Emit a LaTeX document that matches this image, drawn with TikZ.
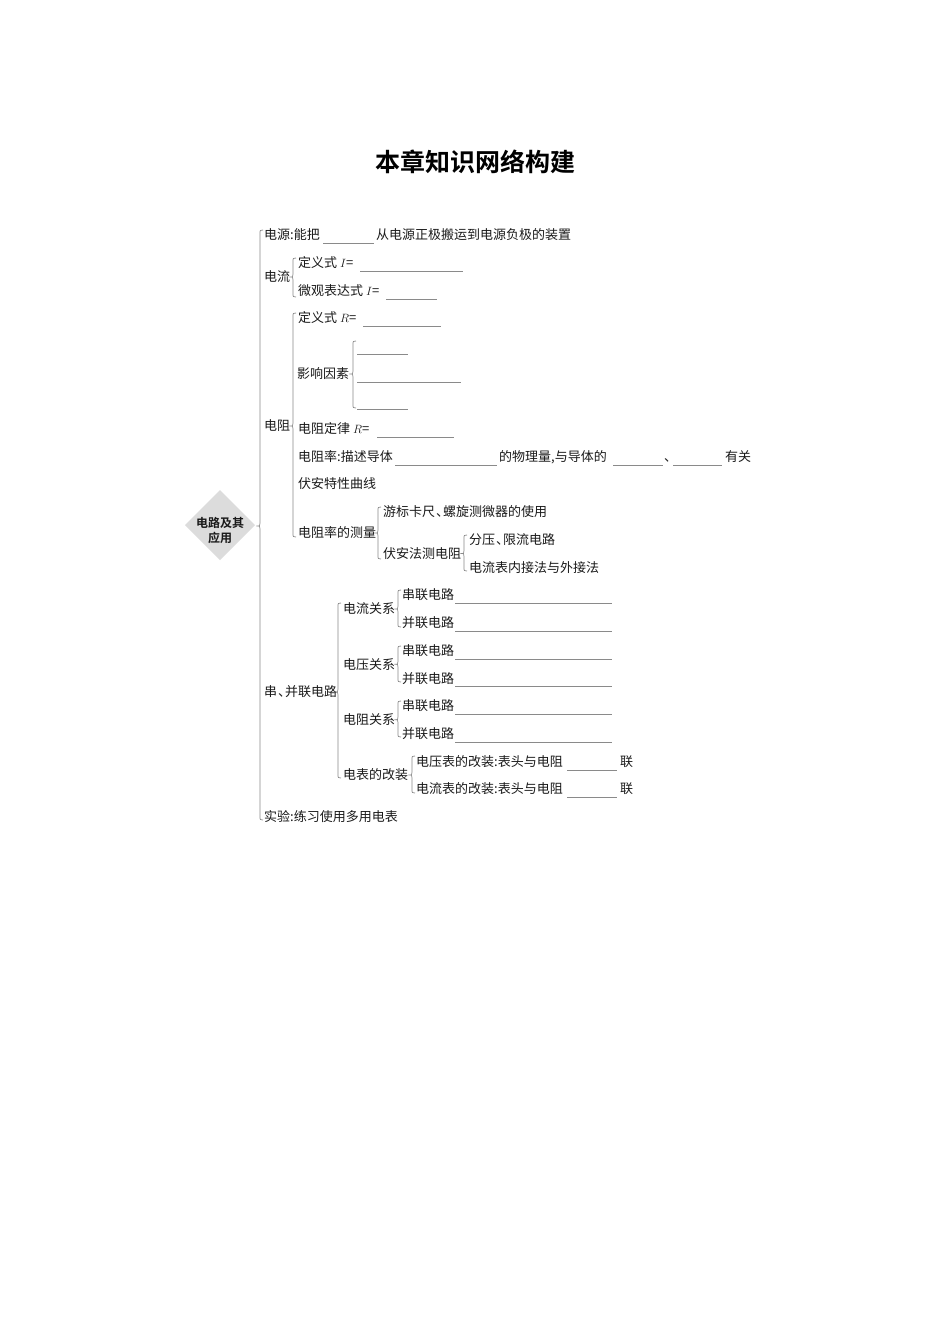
\documentclass[tikz,border=0pt]{standalone}
\usepackage{fontspec}
\newfontfamily\cjk{Noto Sans CJK SC}
\newfontfamily\cjkb{Noto Sans CJK SC Bold}
\definecolor{txtc}{HTML}{1A1A1A}
\definecolor{lnc}{HTML}{8A8A8A}
\definecolor{dmc}{HTML}{DCDCDC}
\newcommand\mybrace[4]{\draw[ln] (#1+3,#2) .. controls (#1,#2) .. (#1,#2+4) -- (#1,#3-3) .. controls (#1,#3) .. (#1-3.5,#3) .. controls (#1,#3) .. (#1,#3+3) -- (#1,#4-4) .. controls (#1,#4) .. (#1+3,#4);}
\newcommand\blank[3]{\draw[bl] (#1,#3) -- (#2,#3);}
\newcommand\dun{\kern1pt、\kern-6pt}
\begin{document}
\begin{tikzpicture}[x=1pt,y=-1pt,
 tx/.style={anchor=west,inner sep=0pt,text height=11.4pt,text depth=1.6pt,font=\cjk\fontsize{13}{15}\selectfont,text=txtc},
 ln/.style={draw=lnc,line width=0.7pt},
 bl/.style={draw=lnc,line width=0.6pt}]
\fill[white] (0,0) rectangle (950,1344);
\useasboundingbox (0,0) rectangle (950,1344);
% title
\node[font=\cjkb\fontsize{25}{30}\selectfont,text=black,inner sep=0pt] (title) at (475,162) {本章知识网络构建};
% central diamond
\fill[dmc] (185,525) -- (220,490) -- (255,525) -- (220,560) -- cycle;
\node[font=\cjkb\fontsize{12}{15}\selectfont,text=txtc,align=center,inner sep=0pt] (root) at (220,530) {电路及其\\应用};
\mybrace{260}{230}{526}{820}
% 电源
\node[tx] (dy) at (264,235) {电源:能把};
\blank{323}{374}{243.5}
\node[tx] (dy2) at (376,235) {从电源正极搬运到电源负极的装置};
% 电流
\node[tx] (dl) at (264,276.5) {电流};
\mybrace{293}{258}{277}{297}
\node[tx] (dl1) at (298,263) {定义式 $I$=};
\blank{360}{463}{271.5}
\node[tx] (dl2) at (298,291) {微观表达式 $I$=};
\blank{386}{437}{299.5}
% 电阻
\node[tx] (dz) at (264,426) {电阻};
\mybrace{293}{313}{426}{537}
\node[tx] (dz1) at (298,318) {定义式 $R$=};
\blank{363}{441}{326.5}
\node[tx] (yx) at (297,374) {影响因素};
\mybrace{353}{341}{374}{408}
\blank{357}{408}{354}
\blank{357}{461}{382}
\blank{357}{408}{409}
\node[tx] (dz2) at (298,429) {电阻定律 $R$=};
\blank{377}{454}{437.5}
\node[tx] (dz3) at (298,456.6) {电阻率:描述导体};
\blank{395}{497}{465}
\node[tx] (dz3b) at (499,456.6) {的物理量,与导体的};
\blank{613}{663}{465}
\node[tx] (dz3c) at (664,456.6) {、};
\blank{673}{722}{465}
\node[tx] (dz3d) at (725,456.6) {有关};
\node[tx] (dz4) at (298,484) {伏安特性曲线};
\node[tx] (dz5) at (298,533) {电阻率的测量};
\mybrace{378}{507}{533}{559}
\node[tx] (cl1) at (383,512) {游标卡尺\dun 螺旋测微器的使用};
\node[tx] (cl2) at (383,553.5) {伏安法测电阻};
\mybrace{464}{535}{553.5}{571}
\node[tx] (fa1) at (469,539.7) {分压\dun 限流电路};
\node[tx] (fa2) at (469,567.4) {电流表内接法与外接法};
% 串并联
\node[tx] (cb) at (264,692) {串\dun 并联电路};
\mybrace{338}{603}{692}{778}
\node[tx] (gx1) at (343,609) {电流关系};
\mybrace{398}{590}{609}{627}
\node[tx] (gx1a) at (402,595) {串联电路};
\blank{455}{612}{603.5}
\node[tx] (gx1b) at (402,622.8) {并联电路};
\blank{455}{612}{631.3}
\node[tx] (gx2) at (343,664.3) {电压关系};
\mybrace{398}{646}{664.3}{682}
\node[tx] (gx2a) at (402,650.5) {串联电路};
\blank{455}{612}{659}
\node[tx] (gx2b) at (402,678.2) {并联电路};
\blank{455}{612}{686.7}
\node[tx] (gx3) at (343,719.7) {电阻关系};
\mybrace{398}{701}{719.7}{737}
\node[tx] (gx3a) at (402,705.9) {串联电路};
\blank{455}{612}{714.4}
\node[tx] (gx3b) at (402,733.6) {并联电路};
\blank{455}{612}{742.1}
\node[tx] (gx4) at (343,775) {电表的改装};
\mybrace{412}{756}{775}{793}
\node[tx] (gx4a) at (416,761.3) {电压表的改装:表头与电阻};
\blank{567}{617}{769.8}
\node[tx] (gx4a2) at (620,761.3) {联};
\node[tx] (gx4b) at (416,789) {电流表的改装:表头与电阻};
\blank{567}{617}{797.5}
\node[tx] (gx4b2) at (620,789) {联};
% 实验
\node[tx] (sy) at (264,816.7) {实验:练习使用多用电表};
\end{tikzpicture}
\end{document}
